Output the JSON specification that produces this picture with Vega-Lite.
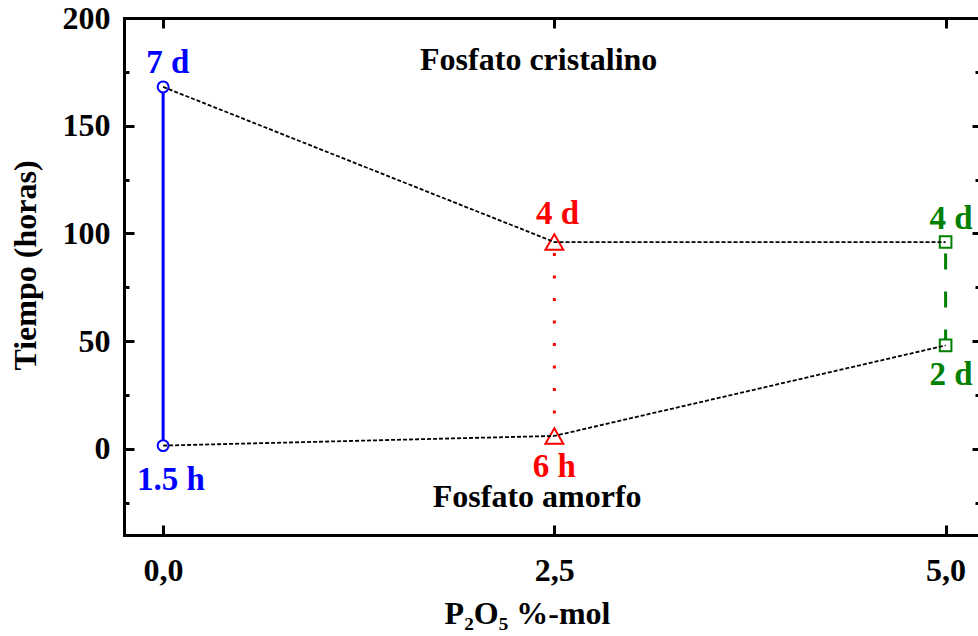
{
  "$schema": "https://vega.github.io/schema/vega-lite/v6.json",
  "width": 854,
  "height": 517,
  "autosize": {"type": "none"},
  "padding": {"left": 124, "top": 18, "right": 0, "bottom": 101},
  "background": "white",
  "config": {
    "view": {"stroke": null},
    "axis": {
      "grid": false,
      "domainColor": "black",
      "domainWidth": 3,
      "domainCap": "square",
      "tickColor": "black",
      "tickWidth": 3,
      "labelFont": "Liberation Serif",
      "labelFontWeight": "bold",
      "labelFontSize": 32,
      "labelColor": "black",
      "titleFont": "Liberation Serif",
      "titleFontWeight": "bold",
      "titleFontSize": 32,
      "titleColor": "black"
    }
  },
  "datasets": {
    "curvas": [
      {"fase": "cristalino", "p2o5": 0, "tiempo": 168},
      {"fase": "cristalino", "p2o5": 2.5, "tiempo": 96},
      {"fase": "cristalino", "p2o5": 5, "tiempo": 96},
      {"fase": "amorfo", "p2o5": 0, "tiempo": 1.5},
      {"fase": "amorfo", "p2o5": 2.5, "tiempo": 6},
      {"fase": "amorfo", "p2o5": 5, "tiempo": 48}
    ],
    "tramos": [
      {"muestra": "0,0", "p2o5": 0, "inicio": 1.5, "fin": 168},
      {"muestra": "2,5", "p2o5": 2.5, "inicio": 6, "fin": 96},
      {"muestra": "5,0", "p2o5": 5, "inicio": 48, "fin": 96}
    ],
    "marcadores": [
      {"muestra": "0,0", "p2o5": 0, "tiempo": 168},
      {"muestra": "0,0", "p2o5": 0, "tiempo": 1.5},
      {"muestra": "2,5", "p2o5": 2.5, "tiempo": 96},
      {"muestra": "2,5", "p2o5": 2.5, "tiempo": 6},
      {"muestra": "5,0", "p2o5": 5, "tiempo": 96},
      {"muestra": "5,0", "p2o5": 5, "tiempo": 48}
    ],
    "etiquetas": [
      {"muestra": "0,0", "x": 0.03, "y": 178.9, "texto": "7 d"},
      {"muestra": "0,0", "x": 0.05, "y": -14.4, "texto": "1.5 h"},
      {"muestra": "2,5", "x": 2.52, "y": 109, "texto": "4 d"},
      {"muestra": "2,5", "x": 2.5, "y": -8.4, "texto": "6 h"},
      {"muestra": "5,0", "x": 5.035, "y": 106.7, "texto": "4 d"},
      {"muestra": "5,0", "x": 5.035, "y": 34.3, "texto": "2 d"}
    ],
    "zonas": [
      {"x": 2.4, "y": 180.5, "texto": "Fosfato cristalino"},
      {"x": 2.39, "y": -22.5, "texto": "Fosfato amorfo"}
    ]
  },
  "layer": [
    {
      "data": {"name": "tramos"},
      "mark": {"type": "rule", "strokeWidth": 3},
      "encoding": {
        "x": {
          "field": "p2o5", "type": "quantitative",
          "scale": {"domain": [-0.25, 5.207], "nice": false, "zero": false},
          "axis": {"orient": "bottom", "labels": false, "domain": false, "tickSize": -10, "values": [0, 2.5, 5], "title": null}
        },
        "y": {
          "field": "inicio", "type": "quantitative",
          "scale": {"domain": [-40, 200], "nice": false, "zero": false},
          "axis": {"orient": "left", "labels": false, "domain": false, "tickSize": -10, "values": [0, 50, 100, 150, 200], "title": null}
        },
        "y2": {"field": "fin"},
        "color": {
          "field": "muestra", "type": "nominal",
          "scale": {"domain": ["0,0", "2,5", "5,0"], "range": ["#0000ff", "#ff0000", "#008000"]},
          "legend": null
        },
        "strokeDash": {
          "field": "muestra", "type": "nominal",
          "scale": {"domain": ["0,0", "2,5", "5,0"], "range": [[1, 0], [3, 19.5], [16, 22]]},
          "legend": null
        }
      }
    },
    {
      "data": {"name": "marcadores"},
      "mark": {"type": "point", "filled": false, "fill": "white", "fillOpacity": 1, "strokeWidth": 2, "opacity": 1},
      "encoding": {
        "x": {
          "field": "p2o5", "type": "quantitative",
          "scale": {"domain": [-0.25, 5.207], "nice": false, "zero": false},
          "axis": {"orient": "top", "labels": false, "domain": true, "tickSize": -10, "values": [0, 2.5, 5], "title": null}
        },
        "y": {
          "field": "tiempo", "type": "quantitative",
          "scale": {"domain": [-40, 200], "nice": false, "zero": false},
          "axis": {"orient": "left", "labels": false, "domain": false, "tickSize": -5, "values": [-25, 25, 75, 125, 175], "title": null}
        },
        "stroke": {
          "field": "muestra", "type": "nominal",
          "scale": {"domain": ["0,0", "2,5", "5,0"], "range": ["#0000ff", "#ff0000", "#008000"]},
          "legend": null
        },
        "shape": {
          "field": "muestra", "type": "nominal",
          "scale": {"domain": ["0,0", "2,5", "5,0"], "range": ["circle", "triangle-up", "square"]},
          "legend": null
        },
        "size": {
          "condition": [
            {"test": "datum.muestra === '2,5'", "value": 320},
            {"test": "datum.muestra === '5,0'", "value": 135}
          ],
          "value": 120
        }
      }
    },
    {
      "data": {"name": "curvas"},
      "mark": {"type": "line", "color": "black", "strokeWidth": 1.8, "strokeDash": [4, 2]},
      "encoding": {
        "x": {
          "field": "p2o5", "type": "quantitative",
          "scale": {"domain": [-0.25, 5.207], "nice": false, "zero": false},
          "axis": {
            "orient": "bottom", "ticks": false, "domain": true, "values": [0, 2.5, 5],
            "labelExpr": "replace(format(datum.value, '.1f'), '.', ',')",
            "labelPadding": 20,
            "title": "P₂O₅ %-mol",
            "titleX": 403, "titleY": 88, "titleBaseline": "alphabetic"
          }
        },
        "y": {
          "field": "tiempo", "type": "quantitative",
          "scale": {"domain": [-40, 200], "nice": false, "zero": false},
          "axis": {
            "orient": "left", "ticks": false, "domain": true, "values": [0, 50, 100, 150, 200],
            "labelPadding": 14,
            "title": "Tiempo (horas)",
            "titleX": -89, "titleY": 247, "titleAngle": 270, "titleBaseline": "alphabetic"
          }
        },
        "detail": {"field": "fase", "type": "nominal"}
      }
    },
    {
      "data": {"name": "etiquetas"},
      "mark": {"type": "text", "font": "Liberation Serif", "fontWeight": "bold", "fontSize": 33, "baseline": "middle", "align": "center"},
      "encoding": {
        "x": {"field": "x", "type": "quantitative", "scale": {"domain": [-0.25, 5.207], "nice": false, "zero": false}, "axis": null},
        "y": {
          "field": "y", "type": "quantitative",
          "scale": {"domain": [-40, 200], "nice": false, "zero": false},
          "axis": {"orient": "right", "labels": false, "domain": false, "tickSize": -6, "values": [0, 50, 100, 150, 200], "title": null}
        },
        "text": {"field": "texto"},
        "color": {
          "field": "muestra", "type": "nominal",
          "scale": {"domain": ["0,0", "2,5", "5,0"], "range": ["#0000ff", "#ff0000", "#008000"]},
          "legend": null
        }
      }
    },
    {
      "data": {"name": "zonas"},
      "mark": {"type": "text", "font": "Liberation Serif", "fontWeight": "bold", "fontSize": 32, "baseline": "middle", "align": "center", "color": "black"},
      "encoding": {
        "x": {"field": "x", "type": "quantitative", "scale": {"domain": [-0.25, 5.207], "nice": false, "zero": false}, "axis": null},
        "y": {
          "field": "y", "type": "quantitative",
          "scale": {"domain": [-40, 200], "nice": false, "zero": false},
          "axis": {"orient": "right", "labels": false, "domain": false, "tickSize": -3, "values": [-25, 25, 75, 125, 175], "title": null}
        },
        "text": {"field": "texto"}
      }
    }
  ],
  "resolve": {"axis": {"x": "independent", "y": "independent"}}
}
